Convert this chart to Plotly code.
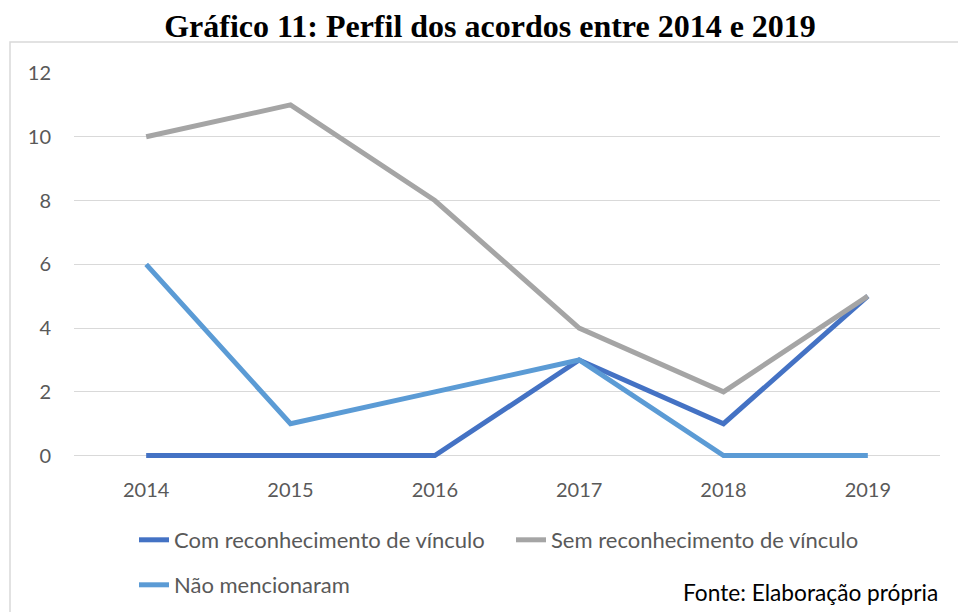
import plotly.graph_objects as go

years = ["2014", "2015", "2016", "2017", "2018", "2019"]
com_vinculo = [0, 0, 0, 3, 1, 5]
sem_vinculo = [10, 11, 8, 4, 2, 5]
nao_mencionaram = [6, 1, 2, 3, 0, 0]
y_ticks = [0, 2, 4, 6, 8, 10, 12]

W, H = 958, 612
Y_MIN, Y_MAX = -0.2, 12
y0_px, y12_px = 456, 73
ppu = (y0_px - y12_px) / 12
L, R, T = 74, 18, 73
B = H - (y0_px - Y_MIN * ppu)
pw, ph = W - L - R, H - T - B

def px(x):
    return (x - L) / pw

def py(y):
    return (H - B - y) / ph

def cx(x):
    return x / W

def cy(y):
    return 1 - y / H

fig = go.Figure()
fig.add_trace(go.Scatter(x=years, y=com_vinculo, mode="lines", name="Com reconhecimento de vínculo",
                         line=dict(color="#4472C4", width=5), legend="legend"))
fig.add_trace(go.Scatter(x=years, y=sem_vinculo, mode="lines", name="Sem reconhecimento de vínculo",
                         line=dict(color="#A5A5A5", width=5), legend="legend"))
fig.add_trace(go.Scatter(x=years, y=nao_mencionaram, mode="lines", name="Não mencionaram",
                         line=dict(color="#5B9BD5", width=5), legend="legend2"))

legend_font = dict(family="Lato, Carlito, Calibri, sans-serif", size=22, color="#595959")

fig.update_layout(
    width=W, height=H,
    margin=dict(l=L, r=R, t=T, b=B, autoexpand=False),
    paper_bgcolor="white", plot_bgcolor="white",
    font=dict(family="Lato, Carlito, Calibri, sans-serif", size=20, color="#595959"),
    title=dict(text="<b>Gráfico 11: Perfil dos acordos entre 2014 e 2019</b>",
               font=dict(family="Liberation Serif, Times New Roman, serif", size=32, color="black"),
               x=cx(490), xanchor="center", y=cy(26), yanchor="middle", xref="container", yref="container"),
    xaxis=dict(type="category", range=[-0.5, 5.5], showgrid=False, zeroline=False,
               showline=False, ticks="", ticklabelstandoff=14, automargin=False,
               tickfont=dict(size=20, color="#595959")),
    yaxis=dict(range=[Y_MIN, Y_MAX], tickvals=y_ticks, showgrid=True, gridcolor="#D9D9D9", gridwidth=1,
               zeroline=False, showline=False, ticks="", ticklabelstandoff=22, automargin=False,
               tickfont=dict(size=20, color="#595959")),
    showlegend=True,
    legend=dict(orientation="h", xref="container", yref="container", x=cx(134), y=cy(540),
                xanchor="left", yanchor="middle",
                entrywidth=332, entrywidthmode="pixels", bgcolor="rgba(0,0,0,0)",
                font=legend_font, traceorder="normal"),
    legend2=dict(orientation="h", xref="container", yref="container", x=cx(134), y=cy(585),
                 xanchor="left", yanchor="middle", bgcolor="rgba(0,0,0,0)", font=legend_font),
    shapes=[dict(type="rect", xref="paper", yref="paper",
                 x0=px(10), x1=px(962), y0=py(620), y1=py(42),
                 line=dict(color="#D9D9D9", width=1.5), fillcolor="rgba(0,0,0,0)", layer="below")],
    annotations=[dict(text="Fonte: Elaboração própria", xref="paper", yref="paper",
                      x=px(940), y=py(593), xanchor="right", yanchor="middle", showarrow=False,
                      font=dict(family="Lato, Carlito, Calibri, sans-serif", size=22.7, color="black"))],
)

fig.write_html("out.html", config={"displayModeBar": False},
               post_script="document.body.style.margin='0';document.body.style.padding='0';")
